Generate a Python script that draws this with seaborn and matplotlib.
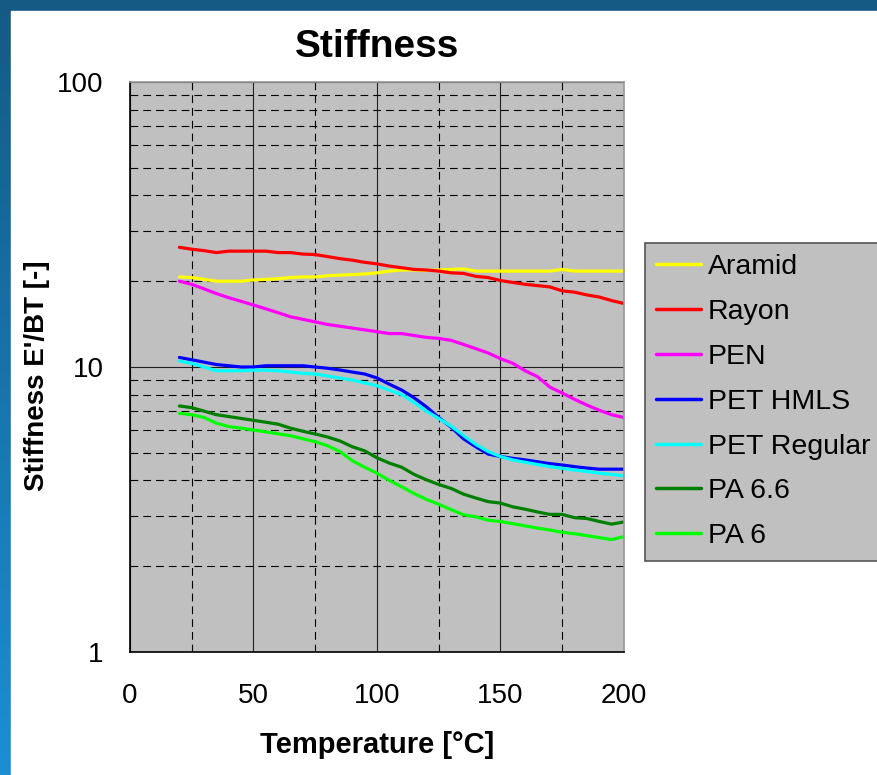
import numpy as np
import pandas as pd
import matplotlib
matplotlib.use("Agg")
import matplotlib.pyplot as plt
import seaborn as sns
from matplotlib.ticker import FixedLocator, NullFormatter

# temperature grid of the measured curves
temperature = list(range(20, 205, 5))

aramid = [20.7, 20.6, 20.3, 20.0, 20.0, 20.0, 20.2, 20.3, 20.4, 20.6, 20.7, 20.7,
          20.9, 21.0, 21.1, 21.2, 21.4, 21.7, 21.9, 21.9, 21.8, 21.9, 22.0, 22.1,
          21.7, 21.7, 21.7, 21.7, 21.7, 21.7, 21.7, 22.0, 21.7, 21.7, 21.7, 21.7, 21.7]
rayon = [26.3, 25.9, 25.6, 25.2, 25.5, 25.5, 25.5, 25.5, 25.2, 25.2, 24.9, 24.8,
         24.4, 24.0, 23.7, 23.3, 23.0, 22.6, 22.3, 22.0, 21.9, 21.7, 21.4, 21.3,
         20.8, 20.6, 20.1, 19.8, 19.5, 19.3, 19.1, 18.5, 18.3, 17.9, 17.6, 17.1, 16.7]
pen = [20.0, 19.5, 18.8, 18.1, 17.5, 17.0, 16.5, 16.0, 15.5, 15.0, 14.7, 14.4,
       14.1, 13.9, 13.7, 13.5, 13.3, 13.1, 13.1, 12.9, 12.7, 12.6, 12.4, 12.0,
       11.6, 11.2, 10.7, 10.3, 9.7, 9.25, 8.5, 8.1, 7.7, 7.35, 7.05, 6.8, 6.65]
pet_hmls = [10.8, 10.6, 10.4, 10.2, 10.1, 10.0, 10.0, 10.1, 10.1, 10.1, 10.1, 10.0,
            9.9, 9.76, 9.6, 9.45, 9.15, 8.7, 8.3, 7.8, 7.25, 6.65, 6.15, 5.6,
            5.25, 4.95, 4.85, 4.78, 4.72, 4.65, 4.58, 4.53, 4.47, 4.42, 4.38, 4.38, 4.38]
pet_regular = [10.5, 10.3, 10.0, 9.7, 9.7, 9.7, 9.75, 9.75, 9.7, 9.6, 9.5, 9.45,
               9.3, 9.15, 9.0, 8.8, 8.6, 8.3, 8.0, 7.5, 7.0, 6.6, 6.2, 5.75,
               5.35, 5.05, 4.85, 4.72, 4.63, 4.55, 4.47, 4.41, 4.35, 4.3, 4.24, 4.2, 4.15]
pa66 = [7.3, 7.2, 7.0, 6.8, 6.7, 6.6, 6.5, 6.4, 6.3, 6.1, 5.95, 5.82,
        5.68, 5.5, 5.25, 5.08, 4.8, 4.6, 4.45, 4.2, 4.02, 3.87, 3.75, 3.58,
        3.47, 3.37, 3.33, 3.23, 3.17, 3.1, 3.04, 3.04, 2.96, 2.94, 2.87, 2.81, 2.86]
pa6 = [6.88, 6.8, 6.65, 6.35, 6.18, 6.1, 6.01, 5.92, 5.83, 5.74, 5.6, 5.47,
       5.29, 5.05, 4.69, 4.45, 4.24, 4.0, 3.8, 3.6, 3.43, 3.3, 3.16, 3.03,
       2.98, 2.9, 2.87, 2.82, 2.77, 2.72, 2.68, 2.63, 2.6, 2.56, 2.52, 2.48, 2.54]

materials = ["Aramid", "Rayon", "PEN", "PET HMLS", "PET Regular", "PA 6.6", "PA 6"]
series = [aramid, rayon, pen, pet_hmls, pet_regular, pa66, pa6]
colors = ["#ffff00", "#ff0000", "#ff00ff", "#0000ff", "#00ffff", "#008000", "#00ff00"]

x_ticks = [0, 50, 100, 150, 200]
y_ticks = [1, 10, 100]

rows = []
for name, vals in zip(materials, series):
    for t, v in zip(temperature, vals):
        rows.append({"Temperature": t, "Stiffness": v, "Material": name})
df = pd.DataFrame(rows)

sns.set_style("white")
plt.rcParams["font.family"] = ["Liberation Sans", "DejaVu Sans"]
plt.rcParams["text.color"] = "black"
plt.rcParams["axes.labelcolor"] = "black"
plt.rcParams["xtick.color"] = "black"
plt.rcParams["ytick.color"] = "black"

fig = plt.figure(figsize=(8.78, 7.75), dpi=100)

# blue frame on the top and left edge
bg = fig.add_axes([0, 0, 1, 1], zorder=-10)
grad = np.linspace(0, 1, 256).reshape(-1, 1)
cmap = matplotlib.colors.LinearSegmentedColormap.from_list("frame", ["#145a85", "#1a90d2"])
bg.imshow(grad, aspect="auto", cmap=cmap, extent=[0, 1, 0, 1], origin="upper")
bg.add_patch(plt.Rectangle((11 / 878, 0), 1, 1 - 11 / 775, color="white", zorder=2))
bg.set_xlim(0, 1)
bg.set_ylim(0, 1)
bg.axis("off")

ax = fig.add_axes([130 / 878, 1 - 652 / 775, 494 / 878, 570 / 775])
ax.set_facecolor("#c0c0c0")

sns.lineplot(data=df, x="Temperature", y="Stiffness", hue="Material",
             hue_order=materials, palette=dict(zip(materials, colors)),
             linewidth=2.3, ax=ax, legend=True)

ax.set_yscale("log")
ax.set_xlim(0, 200)
ax.set_ylim(1, 100)

ax.xaxis.set_major_locator(FixedLocator(x_ticks))
ax.xaxis.set_minor_locator(FixedLocator([25, 75, 125, 175]))
ax.yaxis.set_major_locator(FixedLocator(y_ticks))
ax.yaxis.set_minor_locator(FixedLocator([2, 3, 4, 5, 6, 7, 8, 9, 20, 30, 40, 50, 60, 70, 80, 90]))
ax.set_yticklabels([str(v) for v in y_ticks])
ax.yaxis.set_minor_formatter(NullFormatter())

ax.grid(which="major", color="#202020", linewidth=0.8, linestyle="-")
ax.grid(which="minor", color="black", linewidth=0.8, linestyle=(0, (7, 4.5)))
ax.set_axisbelow(True)

ax.tick_params(which="both", length=0, labelsize=20, pad=19)
ax.tick_params(axis="x", pad=22)

for side in ["top", "right"]:
    ax.spines[side].set_color("#999999")
    ax.spines[side].set_linewidth(1.2)
for side in ["left", "bottom"]:
    ax.spines[side].set_color("black")
    ax.spines[side].set_linewidth(1.2)

ax.set_title("Stiffness", fontsize=28, fontweight="bold", pad=18)
ax.set_xlabel("Temperature [°C]", fontsize=21, fontweight="bold", labelpad=16)
ax.set_ylabel("Stiffness E'/BT [-]", fontsize=20, fontweight="bold")
ax.yaxis.set_label_coords(-0.162, 0.484)

handles, labels = ax.get_legend_handles_labels()
ax.legend(handles, labels, loc="upper left",
          bbox_to_anchor=(645 / 878, 1 - 243 / 775), bbox_transform=fig.transFigure,
          borderaxespad=0, fontsize=20.5, frameon=True, fancybox=False,
          facecolor="#c0c0c0", edgecolor="#555555", framealpha=1,
          handlelength=1.55, handletextpad=0.25, labelspacing=0.66, borderpad=0.4)
ax.get_legend().get_frame().set_linewidth(1.2)
for line in ax.get_legend().get_lines():
    line.set_linewidth(2.5)

fig.savefig("out.png", dpi=100)
